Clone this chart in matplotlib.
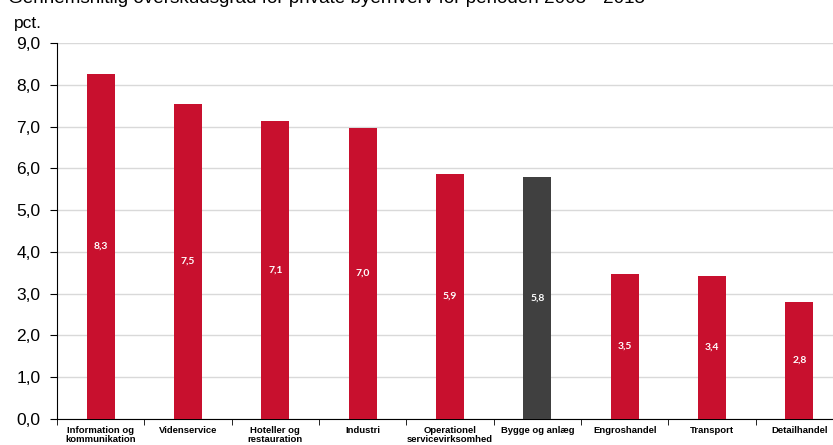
import numpy as np
import matplotlib
matplotlib.use("Agg")
import matplotlib.pyplot as plt

plt.rcParams['font.family'] = ['Liberation Sans', 'DejaVu Sans']

categories = ["Information og\nkommunikation", "Videnservice", "Hoteller og\nrestauration",
              "Industri", "Operationel\nservicevirksomhed", "Bygge og anlæg",
              "Engroshandel", "Transport", "Detailhandel"]
values = [8.26, 7.54, 7.13, 6.97, 5.87, 5.80, 3.47, 3.43, 2.80]
labels = ["8,3", "7,5", "7,1", "7,0", "5,9", "5,8", "3,5", "3,4", "2,8"]
highlight = "Bygge og anlæg"
yticks = np.arange(0, 9.01, 1.0)

red = "#C8102E"
grey = "#404040"

fig = plt.figure(figsize=(8.33, 4.45), dpi=100)
ax = fig.add_axes([57 / 833, 26 / 445, 786 / 833, 376 / 445])

x = np.arange(len(categories))
colors = [grey if c == highlight else red for c in categories]
ax.bar(x, values, width=0.32, color=colors, edgecolor="none", zorder=3)

# value labels in the middle of each bar
for xi, v, lab in zip(x, values, labels):
    ax.text(xi, v / 2, lab, ha="center", va="center", color="white",
            fontsize=7.5, fontweight="bold", family=["Lato", "DejaVu Sans"], zorder=4)

ax.set_xlim(-0.5, len(categories) - 0.5)
ax.set_ylim(0, 9)
ax.set_yticks(yticks)
ax.set_yticklabels([f"{t:.1f}".replace(".", ",") for t in yticks], fontsize=12.5)
ax.yaxis.grid(True, color="#d9d9d9", linewidth=1, zorder=0)

ax.set_xticks(x)
ax.set_xticklabels(categories, fontsize=6.8, fontweight="bold", linespacing=1.0)
ax.set_xticks(np.arange(len(categories) + 1) - 0.5, minor=True)
ax.tick_params(axis="x", which="major", length=0, pad=5)
ax.tick_params(axis="x", which="minor", length=4, direction="out", color="black")
ax.tick_params(axis="y", length=5, direction="out", pad=7)

for s in ["top", "right"]:
    ax.spines[s].set_visible(False)
ax.spines["left"].set_color("black")
ax.spines["bottom"].set_color("black")

fig.text(14 / 833, 1 - 28 / 445, "pct.", fontsize=12.5, va="baseline", ha="left")
fig.text(8 / 833, 1 - 3 / 445, "Gennemsnitlig overskudsgrad for private byerhverv for perioden 2005 - 2015",
         fontsize=13.6, va="baseline", ha="left")

fig.savefig("out.png", dpi=100)
